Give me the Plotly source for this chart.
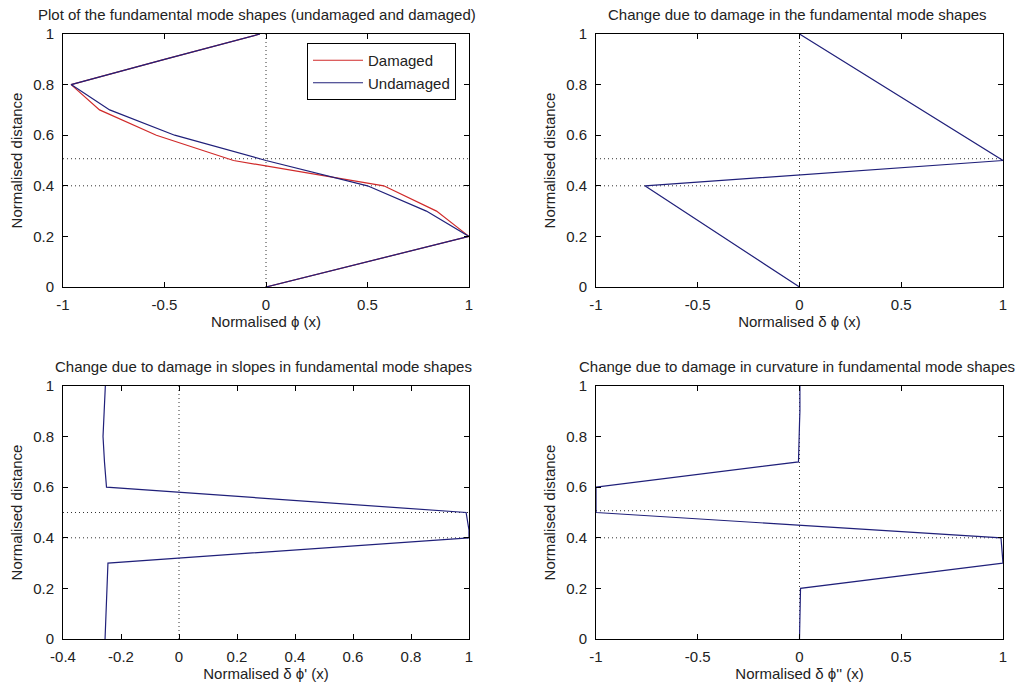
import plotly.graph_objects as go

# ---- data ----
y_mode = [0.0, 0.1, 0.2, 0.3, 0.4, 0.5, 0.6, 0.7, 0.8, 0.9, 1.0]
phi_undamaged = [0.0, 0.5, 1.0, 0.79, 0.5, 0.0, -0.45, -0.77, -0.96, -0.5, -0.03]
phi_damaged = [0.0, 0.5, 1.0, 0.84, 0.58, -0.16, -0.54, -0.82, -0.96, -0.5, -0.03]

y_dphi = [0.0, 0.4, 0.5, 1.0]
dphi = [0.0, -0.76, 1.0, 0.0]

y_slope = [0.0, 0.1, 0.2, 0.3, 0.4, 0.43, 0.5, 0.6, 0.7, 0.8, 0.9, 1.0]
dslope = [-0.255, -0.252, -0.249, -0.245, 1.0, 1.0, 0.99, -0.25, -0.257, -0.262, -0.258, -0.254]

y_curv = [0.0, 0.1, 0.2, 0.3, 0.4, 0.5, 0.6, 0.7, 0.8, 0.85, 0.9, 1.0]
dcurv = [0.0, 0.004, 0.005, 1.0, 0.99, -1.0, -1.0, -0.005, -0.004, 0.0, 0.002, 0.002]

titles = [
    "Plot of the fundamental mode shapes (undamaged and damaged)",
    "Change due to damage in the fundamental mode shapes",
    "Change due to damage in slopes in fundamental mode shapes",
    "Change due to damage in curvature in fundamental mode shapes",
]
xlabels = ["Normalised \u03d5 (x)", "Normalised \u03b4 \u03d5 (x)",
           "Normalised \u03b4 \u03d5' (x)", "Normalised \u03b4 \u03d5'' (x)"]
ylabel = "Normalised distance"

xticks_pm1 = [-1, -0.5, 0, 0.5, 1]
xticktext_pm1 = ["-1", "-0.5", "0", "0.5", "1"]
xticks_slope = [-0.4, -0.2, 0, 0.2, 0.4, 0.6, 0.8, 1]
xticktext_slope = ["-0.4", "-0.2", "0", "0.2", "0.4", "0.6", "0.8", "1"]
yticks = [0, 0.2, 0.4, 0.6, 0.8, 1]
yticktext = ["0", "0.2", "0.4", "0.6", "0.8", "1"]

ref_lower = 0.4
ref_upper = [0.507, 0.507, 0.5, 0.507]

BLUE = "#20207a"
RED = "#d02a2a"
TXT = "#222222"

W, H = 1028, 686
# plot area (pixels) and per-axes pixel boxes (left, right, top, bottom)
PL, PR, PT, PB = 63, 1003, 34, 639
PW, PH = PR - PL, PB - PT
boxes = [(63, 469, 34, 287), (596, 1003, 34, 287),
         (63, 469, 386, 639), (596, 1003, 386, 639)]
title_centers = [257, 797, 263, 797]
xranges = [[-1, 1], [-1, 1], [-0.4, 1], [-1, 1]]


def px_x(p):
    return (p - PL) / PW


def px_y(p):
    return (PB - p) / PH


fig = go.Figure()

series = [
    [(phi_damaged, y_mode, RED, "Damaged", True), (phi_undamaged, y_mode, BLUE, "Undamaged", True)],
    [(dphi, y_dphi, BLUE, "d", False)],
    [(dslope, y_slope, BLUE, "s", False)],
    [(dcurv, y_curv, BLUE, "c", False)],
]

for i in range(4):
    xa = "x" if i == 0 else f"x{i+1}"
    ya = "y" if i == 0 else f"y{i+1}"
    x0, x1 = xranges[i]
    fig.add_trace(go.Scatter(x=[0, 0], y=[0, 1], mode="lines", xaxis=xa, yaxis=ya,
                             line=dict(color="#333333", width=1, dash="1px,3px"),
                             showlegend=False, hoverinfo="skip"))
    for yy in (ref_lower, ref_upper[i]):
        fig.add_trace(go.Scatter(x=[x0, x1], y=[yy, yy], mode="lines", xaxis=xa, yaxis=ya,
                                 line=dict(color="#333333", width=1, dash="1px,3px"),
                                 showlegend=False, hoverinfo="skip"))
    for xs, ys, col, name, leg in series[i]:
        fig.add_trace(go.Scatter(x=xs, y=ys, mode="lines", xaxis=xa, yaxis=ya,
                                 line=dict(color=col, width=1.2), name=name,
                                 showlegend=leg))

layout = dict(width=W, height=H,
              margin=dict(l=PL, r=W - PR, t=PT, b=H - PB, autoexpand=False),
              paper_bgcolor="white", plot_bgcolor="white",
              font=dict(family="Liberation Sans, Arial, sans-serif", color=TXT, size=15))
annotations = []
for i in range(4):
    l, r, t, b = boxes[i]
    suffix = "" if i == 0 else str(i + 1)
    xd = [px_x(l), px_x(r)]
    yd = [px_y(b), px_y(t)]
    tv, tt = (xticks_slope, xticktext_slope) if i == 2 else (xticks_pm1, xticktext_pm1)
    layout["xaxis" + suffix] = dict(
        domain=xd, range=xranges[i], anchor="y" + suffix, automargin=False,
        showline=True, linecolor="black", linewidth=1, mirror="ticks",
        ticks="inside", ticklen=5, tickcolor="black", ticklabelstandoff=4,
        tickvals=tv, ticktext=tt, showgrid=False, zeroline=False,
        tickfont=dict(size=15, color=TXT),
        title=dict(text=xlabels[i], font=dict(size=15, color=TXT), standoff=4))
    layout["yaxis" + suffix] = dict(
        domain=yd, range=[0, 1], anchor="x" + suffix, automargin=False,
        showline=True, linecolor="black", linewidth=1, mirror="ticks",
        ticks="inside", ticklen=5, tickcolor="black", ticklabelstandoff=5,
        tickvals=yticks, ticktext=yticktext, showgrid=False, zeroline=False,
        tickfont=dict(size=15, color=TXT),
        title=dict(text=ylabel, font=dict(size=15, color=TXT), standoff=6))
    annotations.append(dict(text=titles[i], xref="paper", yref="paper",
                            x=px_x(title_centers[i]), y=px_y(t),
                            xanchor="center", yanchor="bottom", yshift=9,
                            showarrow=False, font=dict(size=15, color=TXT)))
layout["annotations"] = annotations
layout["legend"] = dict(x=px_x(307), y=px_y(43), xanchor="left", yanchor="top",
                        bordercolor="black", borderwidth=1, bgcolor="white",
                        font=dict(size=15, color=TXT), tracegroupgap=0,
                        itemwidth=50)
fig.update_layout(**layout)
fig.write_html("out.html")
